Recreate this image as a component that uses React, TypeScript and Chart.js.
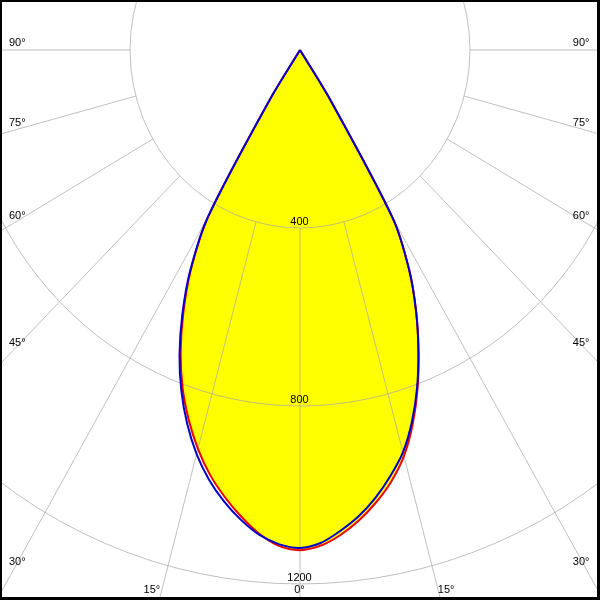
import React, { useEffect, useRef } from 'react';
import { Chart, registerables } from 'chart.js';

Chart.register(...registerables);

// Gamma angles (degrees from nadir), 2.5° steps
const GAMMA = [
  0, 2.5, 5, 7.5, 10, 12.5, 15, 17.5, 20, 22.5, 25, 27.5, 30, 32.5, 35, 37.5, 40, 42.5, 45,
  47.5, 50, 52.5, 55, 57.5, 60, 62.5, 65, 67.5, 70, 72.5, 75, 77.5, 80, 82.5, 85, 87.5, 90,
];
// Luminous intensity (cd/klm) per C-plane
const C0 = [
  1124, 1115, 1094, 1066, 1032, 993, 945, 882, 809, 729, 646, 556, 438, 130, 0, 0, 0, 0, 0,
  0, 0, 0, 0, 0, 0, 0, 0, 0, 0, 0, 0, 0, 0, 0, 0, 0, 0,
];
const C180 = [
  1124, 1116, 1092, 1058, 1020, 978, 928, 871, 808, 734, 649, 556, 429, 130, 0, 0, 0, 0, 0,
  0, 0, 0, 0, 0, 0, 0, 0, 0, 0, 0, 0, 0, 0, 0, 0, 0, 0,
];
const C90 = [
  1119, 1109, 1085, 1057, 1022, 981, 936, 876, 806, 728, 646, 556, 438, 130, 0, 0, 0, 0, 0,
  0, 0, 0, 0, 0, 0, 0, 0, 0, 0, 0, 0, 0, 0, 0, 0, 0, 0,
];
const C270 = [
  1119, 1112, 1094, 1065, 1030, 989, 940, 882, 816, 741, 655, 560, 435, 130, 0, 0, 0, 0, 0,
  0, 0, 0, 0, 0, 0, 0, 0, 0, 0, 0, 0, 0, 0, 0, 0, 0, 0,
];

// Grid
const RINGS = [400, 800, 1200];
const SPOKES = [0, 15, 30, 45, 60, 75, 90];

// Axis ranges
const X_MIN = -706;
const X_MAX = 706;
const Y_MIN = -1236;
const Y_MAX = 112.4;

const FONT = "11px 'Liberation Sans', Arial, sans-serif";
const GRID_COLOR = 'rgba(167,167,167,0.72)';

function curve(left: number[], right: number[]) {
  const pts: { x: number; y: number }[] = [];
  for (let i = GAMMA.length - 1; i >= 0; i--) {
    const g = (GAMMA[i] * Math.PI) / 180;
    pts.push({ x: -left[i] * Math.sin(g), y: -left[i] * Math.cos(g) });
  }
  for (let i = 1; i < GAMMA.length; i++) {
    const g = (GAMMA[i] * Math.PI) / 180;
    pts.push({ x: right[i] * Math.sin(g), y: -right[i] * Math.cos(g) });
  }
  return pts;
}

const polarPlugin = {
  id: 'polarGrid',
  beforeDatasetsDraw(chart: any) {
    const { ctx, chartArea: a, scales } = chart;
    const x = scales.x;
    const y = scales.y;
    const cx = x.getPixelForValue(0);
    const cy = y.getPixelForValue(0);
    ctx.save();
    ctx.beginPath();
    ctx.rect(a.left, a.top, a.right - a.left, a.bottom - a.top);
    ctx.clip();

    // yellow fill of C0-C180 curve
    const meta = chart.getDatasetMeta(1);
    const line = meta.dataset as any;
    ctx.beginPath();
    let done = false;
    if (line && typeof line.path === 'function') {
      try {
        if (typeof line.updateControlPoints === 'function') line.updateControlPoints(a, 'x');
        line.path(ctx);
        done = true;
      } catch (e) {
        done = false;
      }
    }
    if (!done) {
      ctx.beginPath();
      meta.data.forEach((p: any, i: number) => {
        if (i === 0) ctx.moveTo(p.x, p.y);
        else ctx.lineTo(p.x, p.y);
      });
    }
    ctx.closePath();
    ctx.fillStyle = '#ffff00';
    ctx.fill();

    // rings
    ctx.strokeStyle = GRID_COLOR;
    ctx.lineWidth = 1;
    RINGS.forEach((r) => {
      const rx = x.getPixelForValue(r) - cx;
      const ry = y.getPixelForValue(-r) - cy;
      ctx.beginPath();
      ctx.ellipse(cx, cy, rx, ry, 0, 0, Math.PI * 2);
      ctx.stroke();
    });

    // spokes
    const r0 = RINGS[0];
    const r1 = 5000;
    SPOKES.forEach((gd) => {
      const g = (gd * Math.PI) / 180;
      const sides = gd === 0 ? [1] : [-1, 1];
      sides.forEach((s) => {
        ctx.beginPath();
        ctx.moveTo(x.getPixelForValue(s * r0 * Math.sin(g)), y.getPixelForValue(-r0 * Math.cos(g)));
        ctx.lineTo(x.getPixelForValue(s * r1 * Math.sin(g)), y.getPixelForValue(-r1 * Math.cos(g)));
        ctx.stroke();
      });
    });
    ctx.restore();
  },
  afterDatasetsDraw(chart: any) {
    const { ctx, chartArea: a, scales } = chart;
    const x = scales.x;
    const y = scales.y;
    const cx = x.getPixelForValue(0);
    const cy = y.getPixelForValue(0);
    const kx = x.getPixelForValue(1) - cx;
    const ky = y.getPixelForValue(-1) - cy;
    ctx.save();
    ctx.font = FONT;
    ctx.fillStyle = '#000';
    ctx.textBaseline = 'alphabetic';

    // ring labels
    ctx.textAlign = 'center';
    RINGS.forEach((r) => {
      const py = y.getPixelForValue(-r);
      ctx.fillText(String(r), cx - 0.5, py - 7 + 4);
    });

    // spoke labels
    SPOKES.forEach((gd) => {
      const g = (gd * Math.PI) / 180;
      const sn = Math.sin(g);
      const cs = Math.cos(g);
      const sides = gd === 0 ? [1] : [-1, 1];
      sides.forEach((s) => {
        const txt = gd + '°';
        const tb = cs > 1e-9 ? (a.bottom - cy) / (cs * ky) : Infinity;
        const ts = sn > 1e-9 ? (s > 0 ? a.right - cx : cx - a.left) / (sn * kx) : Infinity;
        if (gd === 0 || tb < ts) {
          const yl = a.bottom - 11.5;
          const xs = cx + s * sn * kx * ((yl - cy) / (cs * ky));
          if (gd === 0) {
            ctx.textAlign = 'center';
            ctx.fillText(txt, xs - 0.5, yl + 4);
          } else if (s < 0) {
            ctx.textAlign = 'right';
            ctx.fillText(txt, xs - 2, yl + 4);
          } else {
            ctx.textAlign = 'left';
            ctx.fillText(txt, xs, yl + 4);
          }
        } else {
          const xp = s < 0 ? a.left + 14 : a.right - 14;
          const ysp = cy + cs * ky * (Math.abs(xp - cx) / (sn * kx));
          const yl = ysp - 8;
          if (s < 0) {
            ctx.textAlign = 'left';
            ctx.fillText(txt, a.left + 9, yl + 4);
          } else {
            ctx.textAlign = 'right';
            ctx.fillText(txt, a.right - 10.5, yl + 4);
          }
        }
      });
    });
    ctx.restore();
  },
  afterDraw(chart: any) {
    const { ctx, width, height } = chart;
    ctx.save();
    ctx.fillStyle = '#000';
    ctx.fillRect(0, 0, width, 2);
    ctx.fillRect(0, 0, 2, height);
    ctx.fillRect(width - 3, 0, 3, height);
    ctx.fillRect(0, height - 3, width, 3);
    ctx.restore();
  },
};

export default function App() {
  const ref = useRef<HTMLCanvasElement | null>(null);
  useEffect(() => {
    document.body.style.margin = '0';
    document.body.style.overflow = 'hidden';
    document.body.style.background = '#fff';
    if (!ref.current) return;
    const chart = new Chart(ref.current, {
      type: 'scatter',
      data: {
        datasets: [
          {
            label: 'C90 - C270',
            data: curve(C270, C90),
            showLine: true,
            borderColor: '#0000cc',
            borderWidth: 2,
            pointRadius: 0,
            tension: 0.3,
            fill: false,
          } as any,
          {
            label: 'C0 - C180',
            data: curve(C180, C0),
            showLine: true,
            borderColor: '#ee0000',
            borderWidth: 2,
            pointRadius: 0,
            tension: 0.3,
            fill: false,
          } as any,
        ],
      },
      options: {
        animation: false,
        responsive: false,
        maintainAspectRatio: false,
        devicePixelRatio: 1,
        events: [],
        layout: { padding: 0 },
        scales: {
          x: { type: 'linear', min: X_MIN, max: X_MAX, display: false },
          y: { type: 'linear', min: Y_MIN, max: Y_MAX, display: false },
        },
        plugins: {
          legend: { display: false },
          tooltip: { enabled: false },
        },
      },
      plugins: [polarPlugin],
    });
    return () => chart.destroy();
  }, []);
  return (
    <div style={{ width: 600, height: 600 }}>
      <canvas ref={ref} width={600} height={600} style={{ display: 'block', width: 600, height: 600 }} />
    </div>
  );
}
